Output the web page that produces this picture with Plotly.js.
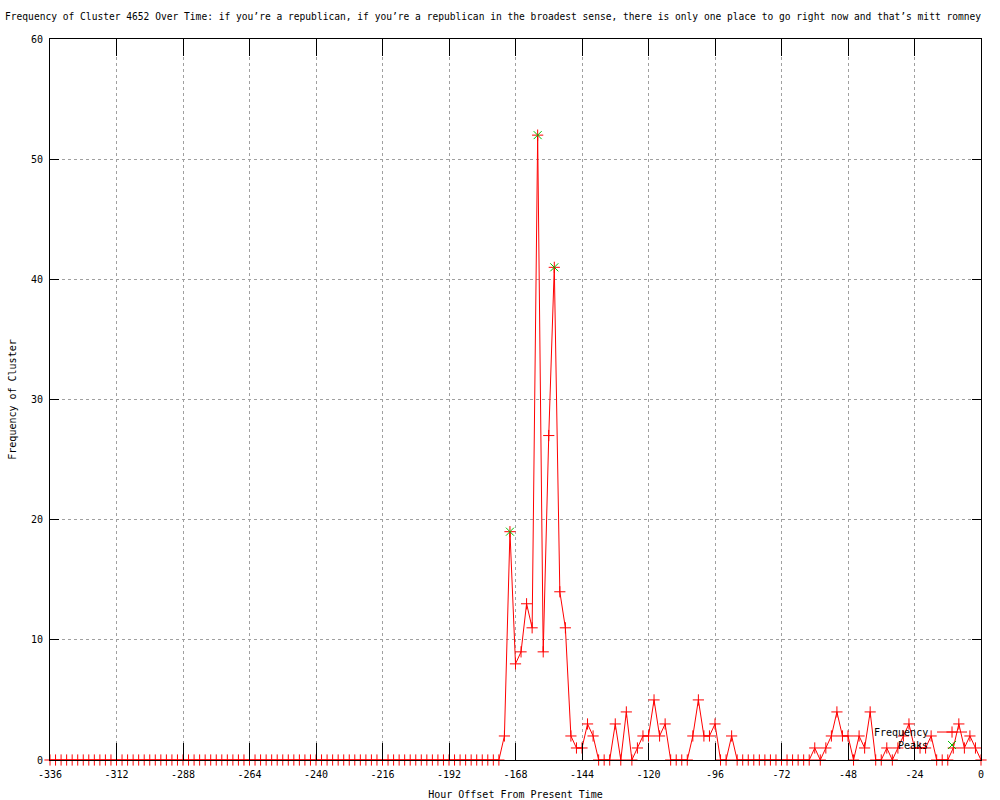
<!DOCTYPE html>
<html>
<head>
<meta charset="utf-8">
<script src="https://cdn.plot.ly/plotly-3.0.1.min.js"></script>
<style>html,body{margin:0;padding:0;background:#fff;}#chart{width:1000px;height:800px;}</style>
</head>
<body>
<div id="chart"></div>
<script>
// Hour offsets (x) for the Frequency series
var hours = [
  -336,-334,-332,-330,-328,-326,-324,-322,-320,-318,
  -316,-314,-312,-310,-308,-306,-304,-302,-300,-298,
  -296,-294,-292,-290,-288,-286,-284,-282,-280,-278,
  -276,-274,-272,-270,-268,-266,-264,-262,-260,-258,
  -256,-254,-252,-250,-248,-246,-244,-242,-240,-238,
  -236,-234,-232,-230,-228,-226,-224,-222,-220,-218,
  -216,-214,-212,-210,-208,-206,-204,-202,-200,-198,
  -196,-194,-192,-190,-188,-186,-184,-182,-180,-178,
  -176,-174,-172,-170,-168,-166,-164,-162,-160,-158,
  -156,-154,-152,-150,-148,-146,-144,-142,-140,-138,
  -136,-134,-132,-130,-128,-126,-124,-122,-120,-118,
  -116,-114,-112,-110,-108,-106,-104,-102,-100,-98,
  -96,-94,-92,-90,-88,-86,-84,-82,-80,-78,
  -76,-74,-72,-70,-68,-66,-64,-62,-60,-58,
  -56,-54,-52,-50,-48,-46,-44,-42,-40,-38,
  -36,-34,-32,-30,-28,-26,-24,-22,-20,-18,
  -16,-14,-12,-10,-8,-6,-4,-2,0
];
// Frequency of cluster at each hour offset
var frequency = [
  0,0,0,0,0,0,0,0,0,0,
  0,0,0,0,0,0,0,0,0,0,
  0,0,0,0,0,0,0,0,0,0,
  0,0,0,0,0,0,0,0,0,0,
  0,0,0,0,0,0,0,0,0,0,
  0,0,0,0,0,0,0,0,0,0,
  0,0,0,0,0,0,0,0,0,0,
  0,0,0,0,0,0,0,0,0,0,
  0,0,2,19,8,9,13,11,52,9,
  27,41,14,11,2,1,1,3,2,0,
  0,0,3,0,4,0,1,2,2,5,
  2,3,0,0,0,0,2,5,2,2,
  3,0,0,2,0,0,0,0,0,0,
  0,0,0,0,0,0,0,0,1,0,
  1,2,4,2,2,0,2,1,4,0,
  0,1,0,1,2,3,1,1,1,2,
  0,0,0,1,3,1,2,1,0
];
// Detected peaks
var peakHours = [-170, -160, -154];
var peakValues = [19, 52, 41];

// Axis ticks
var xTickVals = [-336,-312,-288,-264,-240,-216,-192,-168,-144,-120,-96,-72,-48,-24,0];
var xTickText = ["-336","-312","-288","-264","-240","-216","-192","-168","-144","-120","-96","-72","-48","-24","0"];
var yTickVals = [0,10,20,30,40,50,60];

var titleText = "Frequency of Cluster 4652 Over Time: if you\u2019re a republican, if you\u2019re a republican in the broadest sense, there is only one place to go right now and that\u2019s mitt romney";
var xTitle = "Hour Offset From Present Time";
var yTitle = "Frequency of Cluster";
var seriesNames = ["Frequency", "Peaks"];

var FONT = "DejaVu Sans Mono, Liberation Mono, monospace";

var traces = [
  {
    x: hours, y: frequency, type: "scatter", mode: "lines+markers",
    name: " ", legend: "legend", line: {color: "#ff0000", width: 1},
    marker: {symbol: "cross-thin-open", size: 8, color: "#ff0000", line: {color: "#ff0000", width: 1}},
    cliponaxis: false, hoverinfo: "x+y"
  },
  {
    x: peakHours, y: peakValues, type: "scatter", mode: "markers",
    name: " ", legend: "legend2",
    marker: {symbol: "x-thin-open", size: 8, color: "#00c000", line: {color: "#00c000", width: 1}},
    cliponaxis: false, hoverinfo: "x+y"
  }
];

var legendCommon = {bgcolor: "rgba(0,0,0,0)", font: {family: FONT, size: 10}, borderwidth: 0, itemwidth: 30};

var layout = {
  width: 1000, height: 800,
  paper_bgcolor: "#ffffff", plot_bgcolor: "#ffffff",
  margin: {l: 50, r: 19, t: 39, b: 40, pad: 0},
  font: {family: FONT, size: 10, color: "#000000"},
  title: {text: titleText, x: 0.005, xanchor: "left", xref: "container", y: 0.979, yanchor: "middle", yref: "container",
          font: {family: FONT, size: 9.6, color: "#000000"}},
  showlegend: true,
  legend: Object.assign({x: 0.9474, xanchor: "left", y: 0.0388, yanchor: "middle"}, legendCommon),
  legend2: Object.assign({x: 0.9474, xanchor: "left", y: 0.0208, yanchor: "middle"}, legendCommon),
  xaxis: {
    range: [-336, 0], autorange: false,
    tickmode: "array", tickvals: xTickVals, ticktext: xTickText,
    ticks: "inside", ticklen: 17, tickwidth: 1, tickcolor: "#000000",
    ticklabelstandoff: 5,
    showline: true, linecolor: "#000000", linewidth: 1, mirror: "ticks",
    showgrid: true, gridcolor: "#a0a0a0", griddash: "dot", gridwidth: 1,
    zeroline: false,
    tickfont: {family: FONT, size: 10, color: "#000000"},
    title: {text: xTitle, standoff: 12, font: {family: FONT, size: 10, color: "#000000"}}
  },
  yaxis: {
    range: [0, 60], autorange: false,
    tickmode: "array", tickvals: yTickVals,
    ticks: "inside", ticklen: 9, tickwidth: 1, tickcolor: "#000000",
    ticklabelstandoff: 4,
    showline: true, linecolor: "#000000", linewidth: 1, mirror: "ticks",
    showgrid: true, gridcolor: "#a0a0a0", griddash: "dot", gridwidth: 1,
    zeroline: false,
    tickfont: {family: FONT, size: 10, color: "#000000"},
    title: {text: yTitle, standoff: 12, font: {family: FONT, size: 10, color: "#000000"}}
  },
  annotations: [
    {text: seriesNames[0], xref: "paper", yref: "paper", x: 0.9452, y: 0.0388, xanchor: "right", yanchor: "middle",
     showarrow: false, font: {family: FONT, size: 10, color: "#000000"}},
    {text: seriesNames[1], xref: "paper", yref: "paper", x: 0.9452, y: 0.0208, xanchor: "right", yanchor: "middle",
     showarrow: false, font: {family: FONT, size: 10, color: "#000000"}}
  ]
};

Plotly.newPlot("chart", traces, layout, {displayModeBar: false, staticPlot: true});
</script>
</body>
</html>
